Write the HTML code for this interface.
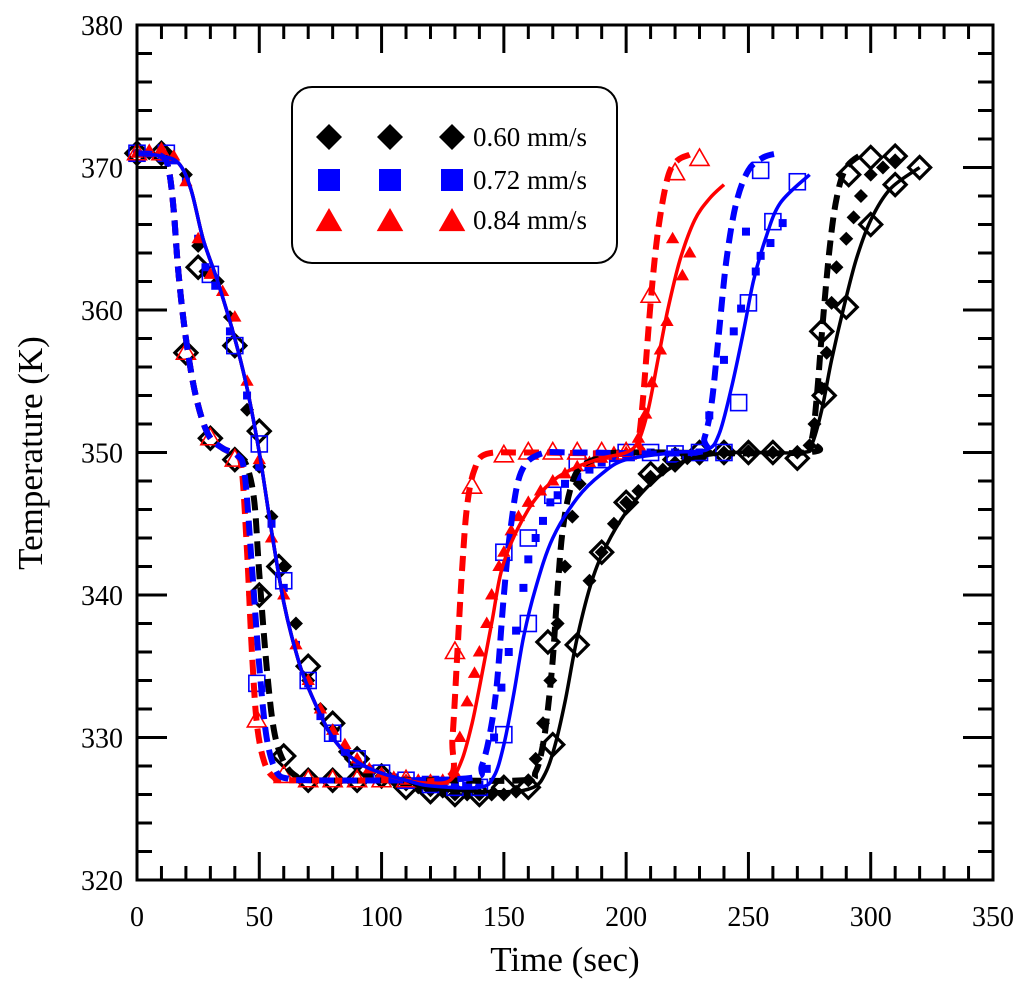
<!DOCTYPE html>
<html><head><meta charset="utf-8"><style>
html,body{margin:0;padding:0;background:#fff;}
svg{display:block;font-family:"Liberation Serif",serif;}
</style></head><body>
<svg id="chart" width="1024" height="986" viewBox="0 0 1024 986">
<g id="marks"></g>
<g id="axes"></g>
<g id="legend">
<rect x="292" y="87" width="325" height="176" rx="20" ry="20" fill="#fff" stroke="#000" stroke-width="2"/>
</g>
</svg>
<script>
const xTicks=[0,50,100,150,200,250,300,350];
const yTicks=[320,330,340,350,360,370,380];
const legendLabels=["0.60 mm/s","0.72 mm/s","0.84 mm/s"];
const solidHead=[[0,371],[10,370.8],[17,370.3],[22,368.5],[27,365],[33,362],[40,358],[45,354.5],[50,350],[55,344.5],[60,339.5],[65,336],[70,333.5],[80,330],[90,328.3],[100,327.5],[110,327]];
const redSolid=[[120,326.8],[128,327],[133,328.5],[137,331],[140,333.5],[145,338],[150,342.3],[160,346],[170,348],[180,349],[190,349.6],[200,350],[205,350.8],[209,353],[213,356.5],[217,360],[222,363.5],[228,366.3],[234,367.8],[240,368.8]];
const blueSolid=[[120,326.6],[140,326.5],[146,327.3],[150,329.5],[154,333],[158,337],[163,340.5],[170,344],[180,346.8],[190,348.5],[200,349.5],[220,350],[233,350.2],[238,351.3],[243,354.5],[248,358.5],[252,362],[257,365],[263,367.5],[275,369.5]];
const blackSolid=[[120,326.4],[150,326.2],[162,326.5],[167,327.5],[171,329.5],[175,332.5],[180,337],[186,341],[192,343.5],[200,345.8],[210,347.8],[220,349.1],[230,349.7],[245,350],[272,350],[276,350.6],[280,353],[284,356.5],[289,360.2],[294,363.5],[300,366.3],[308,368.5],[320,370]];
const dashHead=[[0,371],[10,370.8],[13,369.8],[15,367],[17,362.5],[20,358],[24,354],[29,351.3],[35,350.3],[41,349.8]];
const redDash=[[43,348.5],[45,343],[47,336],[49,331],[52,328.3],[56,327.2],[62,327],[100,327],[127,327.2],[129,330],[131,336],[133,342],[135,346.3],[138,348.8],[143,349.9],[160,350],[203,350],[205,350.8],[207,354],[210,360.5],[213,365.5],[217,369.3],[221,370.5],[226,370.9]];
const blueDash=[[44,348.5],[47,342],[50,335],[53,330],[57,327.6],[62,327.1],[70,327],[110,327],[138,327.2],[141,328],[144,330],[147,333.5],[150,340],[153,345],[157,348.6],[165,349.9],[180,350],[229,350],[232,351],[235,353.5],[238,358.5],[241,363.5],[245,367.5],[250,369.8],[256,370.7],[262,371]];
const blackDash=[[45,349],[48,346.5],[50,341.5],[53,335],[56,330.5],[60,328.3],[65,327.3],[72,327],[120,327],[158,327],[163,327.6],[166,329.5],[168,332],[170,335.5],[172,340.5],[174,344.5],[177,347.3],[181,348.9],[190,349.7],[200,350],[273,350],[276,351],[278,354],[280,358.3],[283,364],[286,367.8],[290,370],[297,371]];
const blackOpen=[[0,371],[10,371],[20,357],[30,351],[25,363],[40,357.5],[40,349.5],[50,351.5],[50,340],[58,342],[60,328.7],[70,335],[70,327],[80,331],[80,327],[90,327],[90,328.5],[100,327.3],[110,326.5],[120,326.2],[130,326],[140,326],[150,326.5],[160,326.5],[170,329.5],[168,336.7],[180,336.5],[190,343],[200,346.5],[210,348.5],[220,349.5],[230,350],[240,350],[250,350],[260,350],[270,349.6],[281,354],[280,358.5],[290,360.2],[291,369.5],[300,366],[300,370.7],[310,368.8],[310,370.8],[320,370]];
const blackFilled=[[5,371],[12,370.8],[20,369.5],[25,364.5],[28,362.7],[33,362],[38,359.5],[45,353],[50,349],[55,345.5],[60,342],[65,338],[70,334],[75,332],[80,330.5],[85,329],[90,328],[95,327.5],[100,327.3],[105,327],[110,326.7],[115,326.5],[120,326.3],[125,326.2],[130,326],[135,326],[140,326],[145,326],[150,326],[155,326.2],[160,327],[163,328.5],[166,331],[169,334],[172,338],[175,342],[178,345.5],[181,347.8],[185,341],[190,343],[195,345],[200,346.5],[205,347.3],[210,348.3],[215,348.8],[220,349.3],[225,349.6],[230,349.8],[240,350],[250,350.1],[260,350],[270,350],[275,350.5],[277,352],[280,354.5],[282,357],[284,360.5],[286,363],[290,365],[293,366.5],[296,368],[300,369.5],[305,370],[310,370.5]];
const blueFilled=[[0,371],[5,371],[10,370.9],[15,370.5],[20,369],[25,365],[28,363],[32,361.7],[38,358.5],[45,354],[50,349],[55,345],[60,340.5],[65,336.5],[70,333.8],[75,331.5],[80,330],[85,329],[90,328.3],[95,327.8],[100,327.4],[105,327.2],[110,327],[115,326.9],[120,326.8],[125,326.7],[130,326.7],[135,326.6],[140,326.7],[143,327.8],[146,330],[149,333.5],[152,336],[155,337.5],[158,340.5],[160,342.5],[163,344],[166,345.2],[169,346.5],[172,347],[175,347.8],[180,348.3],[185,348.8],[190,349.3],[195,349.6],[200,349.8],[210,350],[220,350],[230,350],[234,352.6],[240,356.5],[244,358.5],[247,360.1],[249,365.5],[253,362.7],[255,363.8],[259,364.7],[264,366.1]];
const blueOpen=[[0,371],[12,371],[30,362.5],[40,357.5],[50,350.6],[49,333.8],[60,341],[70,334],[80,330.3],[90,328.5],[100,327.5],[110,327],[120,326.7],[130,326.5],[140,326.5],[150,330.2],[150,343],[160,338],[160,344],[170,347],[180,349.3],[190,349.5],[200,350],[210,350],[220,349.9],[230,350],[240,350],[246,353.5],[250,360.5],[255,369.8],[260,366.2],[270,369]];
const redFilled=[[0,371],[5,371.2],[10,371.2],[15,370.8],[20,369],[25,365],[30,362.5],[35,361.3],[40,359.5],[45,355],[50,349.5],[55,344],[60,340],[65,336.5],[70,334],[75,332],[80,330.5],[85,329.5],[90,328.5],[95,327.8],[100,327.5],[105,327.2],[110,327],[115,327],[120,327],[125,327],[130,327.5],[132,330],[135,332.5],[138,334.5],[140,336],[143,338],[145,340],[148,342],[150,343],[153,344.5],[156,345.5],[160,346.5],[165,347.3],[170,348],[175,348.5],[180,349],[185,349.3],[190,349.6],[195,350],[200,350],[205,351],[208,352.7],[210.5,354.9],[214,357.2],[216.7,359.2],[223,362.4],[226,364],[219,365]];
const redOpen=[[0,371],[10,371],[20,357],[30,351],[40,349.5],[49,331.2],[60,327.3],[70,327],[80,327],[90,327],[100,327],[110,327],[130,336],[137,347.6],[150,349.8],[160,350],[170,350],[180,350],[190,350],[200,350],[210,361],[220,369.6],[230,370.6]];

const X0=137,X1=993,Y0=880,Y1=25;
const xMin=0,xMax=350,yMin=320,yMax=380;
function sx(t){return X0+(t-xMin)/(xMax-xMin)*(X1-X0);}
function sy(v){return Y0-(v-yMin)/(yMax-yMin)*(Y0-Y1);}
const NS="http://www.w3.org/2000/svg";
function mk(tag,attrs,parent){const e=document.createElementNS(NS,tag);for(const k in attrs)e.setAttribute(k,attrs[k]);parent.appendChild(e);return e;}
const marks=document.getElementById('marks');
const axes=document.getElementById('axes');
const legend=document.getElementById('legend');

function smoothPath(pts){
  const p=pts.map(d=>[sx(d[0]),sy(d[1])]);
  let s="M"+p[0][0].toFixed(1)+","+p[0][1].toFixed(1);
  for(let i=0;i<p.length-1;i++){
    const p0=p[i-1]||p[i],p1=p[i],p2=p[i+1],p3=p[i+2]||p2;
    const c1=[p1[0]+(p2[0]-p0[0])/6,p1[1]+(p2[1]-p0[1])/6];
    const c2=[p2[0]-(p3[0]-p1[0])/6,p2[1]-(p3[1]-p1[1])/6];
    s+="C"+c1[0].toFixed(1)+","+c1[1].toFixed(1)+" "+c2[0].toFixed(1)+","+c2[1].toFixed(1)+" "+p2[0].toFixed(1)+","+p2[1].toFixed(1);
  }
  return s;
}
function diamond(cx,cy,r){return `M${cx},${cy-r}L${cx+r},${cy}L${cx},${cy+r}L${cx-r},${cy}Z`;}
function tri(cx,cy,r){return `M${cx},${cy-r}L${cx+r*0.95},${cy+r*0.65}L${cx-r*0.95},${cy+r*0.65}Z`;}
function marker(parent,type,cx,cy,size,fill,stroke,sw){
  let e;
  if(type==='d') e=mk('path',{d:diamond(cx,cy,size),fill:fill,stroke:stroke,'stroke-width':sw},parent);
  else if(type==='s') e=mk('rect',{x:cx-size,y:cy-size,width:2*size,height:2*size,fill:fill,stroke:stroke,'stroke-width':sw},parent);
  else e=mk('path',{d:tri(cx,cy,size),fill:fill,stroke:stroke,'stroke-width':sw},parent);
  return e;
}
function scatter(data,type,size,fill,stroke,sw,name){
  const g=mk('g',{},marks);
  
  
  data.forEach(d=>{
    const e=marker(g,type,sx(d[0]),sy(d[1]),size,fill,stroke,sw);
    
    
  });
}
function line(data,color,w,dash,name){
  const e=mk('path',{d:smoothPath(data),fill:'none',stroke:color,'stroke-width':w,'stroke-linecap':'butt','stroke-linejoin':'round'},marks);
  if(dash)e.setAttribute('stroke-dasharray',dash);
  
  
}
scatter(blackOpen,'d',11,'none','#000',3.2,'black-open-diamonds');
scatter(blackFilled,'d',7,'#000','none',0,'black-filled-diamonds');
scatter(blueOpen,'s',8,'none','#0000ff',1.6,'blue-open-squares');
scatter(blueFilled,'s',4,'#0000ff','none',0,'blue-filled-squares');
scatter(redOpen,'t',10,'none','#ff0000',1.6,'red-open-triangles');
scatter(redFilled,'t',7,'#ff0000','none',0,'red-filled-triangles');
line(dashHead.concat(blackDash),'#000',6,'15 8','black-dashed-line');
line(dashHead.concat(redDash),'#ff0000',6,'15 8','red-dashed-line');
line(dashHead.concat(blueDash),'#0000ff',6,'15 8','blue-dashed-line');
line(solidHead.concat(blackSolid),'#000',3.5,null,'black-solid-line');
line(solidHead.concat(redSolid),'#ff0000',3.5,null,'red-solid-line');
line(solidHead.concat(blueSolid),'#0000ff',3.5,null,'blue-solid-line');

const fr=mk('rect',{x:X0,y:Y1,width:X1-X0,height:Y0-Y1,fill:'none',stroke:'#000','stroke-width':3},axes);


for(let t=xMin;t<=xMax;t+=10){
  const maj=(t%50===0), L=maj?28:14, x=sx(t);
  mk('line',{x1:x,y1:Y0,x2:x,y2:Y0-L,stroke:'#000','stroke-width':3},axes);
  mk('line',{x1:x,y1:Y1,x2:x,y2:Y1+L,stroke:'#000','stroke-width':3},axes);
}
for(let v=yMin;v<=yMax;v+=2){
  const maj=(v%10===0), L=maj?30:15, y=sy(v);
  mk('line',{x1:X0,y1:y,x2:X0+L,y2:y,stroke:'#000','stroke-width':3},axes);
  mk('line',{x1:X1,y1:y,x2:X1-L,y2:y,stroke:'#000','stroke-width':3},axes);
}
xTicks.forEach(t=>{
  const e=mk('text',{x:sx(t),y:926,'text-anchor':'middle','font-size':28},axes);
  e.textContent=t;
  
  
});
yTicks.forEach(v=>{
  const e=mk('text',{x:123,y:sy(v)+10,'text-anchor':'end','font-size':28},axes);
  e.textContent=v;
  
  
});
const xt=mk('text',{x:565,y:971,'text-anchor':'middle','font-size':35},axes);
xt.textContent='Time (sec)';


const yt=mk('text',{x:0,y:0,'text-anchor':'middle','font-size':35,transform:'translate(42,453) rotate(-90)'},axes);
yt.textContent='Temperature (K)';



const legTypes=['d','s','t'], legColors=['#000','#0000ff','#ff0000'], legSizes=[13,11,14], legY=[137,180,220];
legendLabels.forEach((lab,i)=>{
  const g=mk('g',{},legend);
  
  
  [329,390,452].forEach(x=>{
    const cy=legTypes[i]==='t'?legY[i]+2:legY[i];
    marker(g,legTypes[i],x,cy,legSizes[i],legColors[i],'none',0);
  });
  const t=mk('text',{x:473,y:legY[i]+9,'font-size':27},g);
  t.textContent=lab;
});
</script>
</body></html>
